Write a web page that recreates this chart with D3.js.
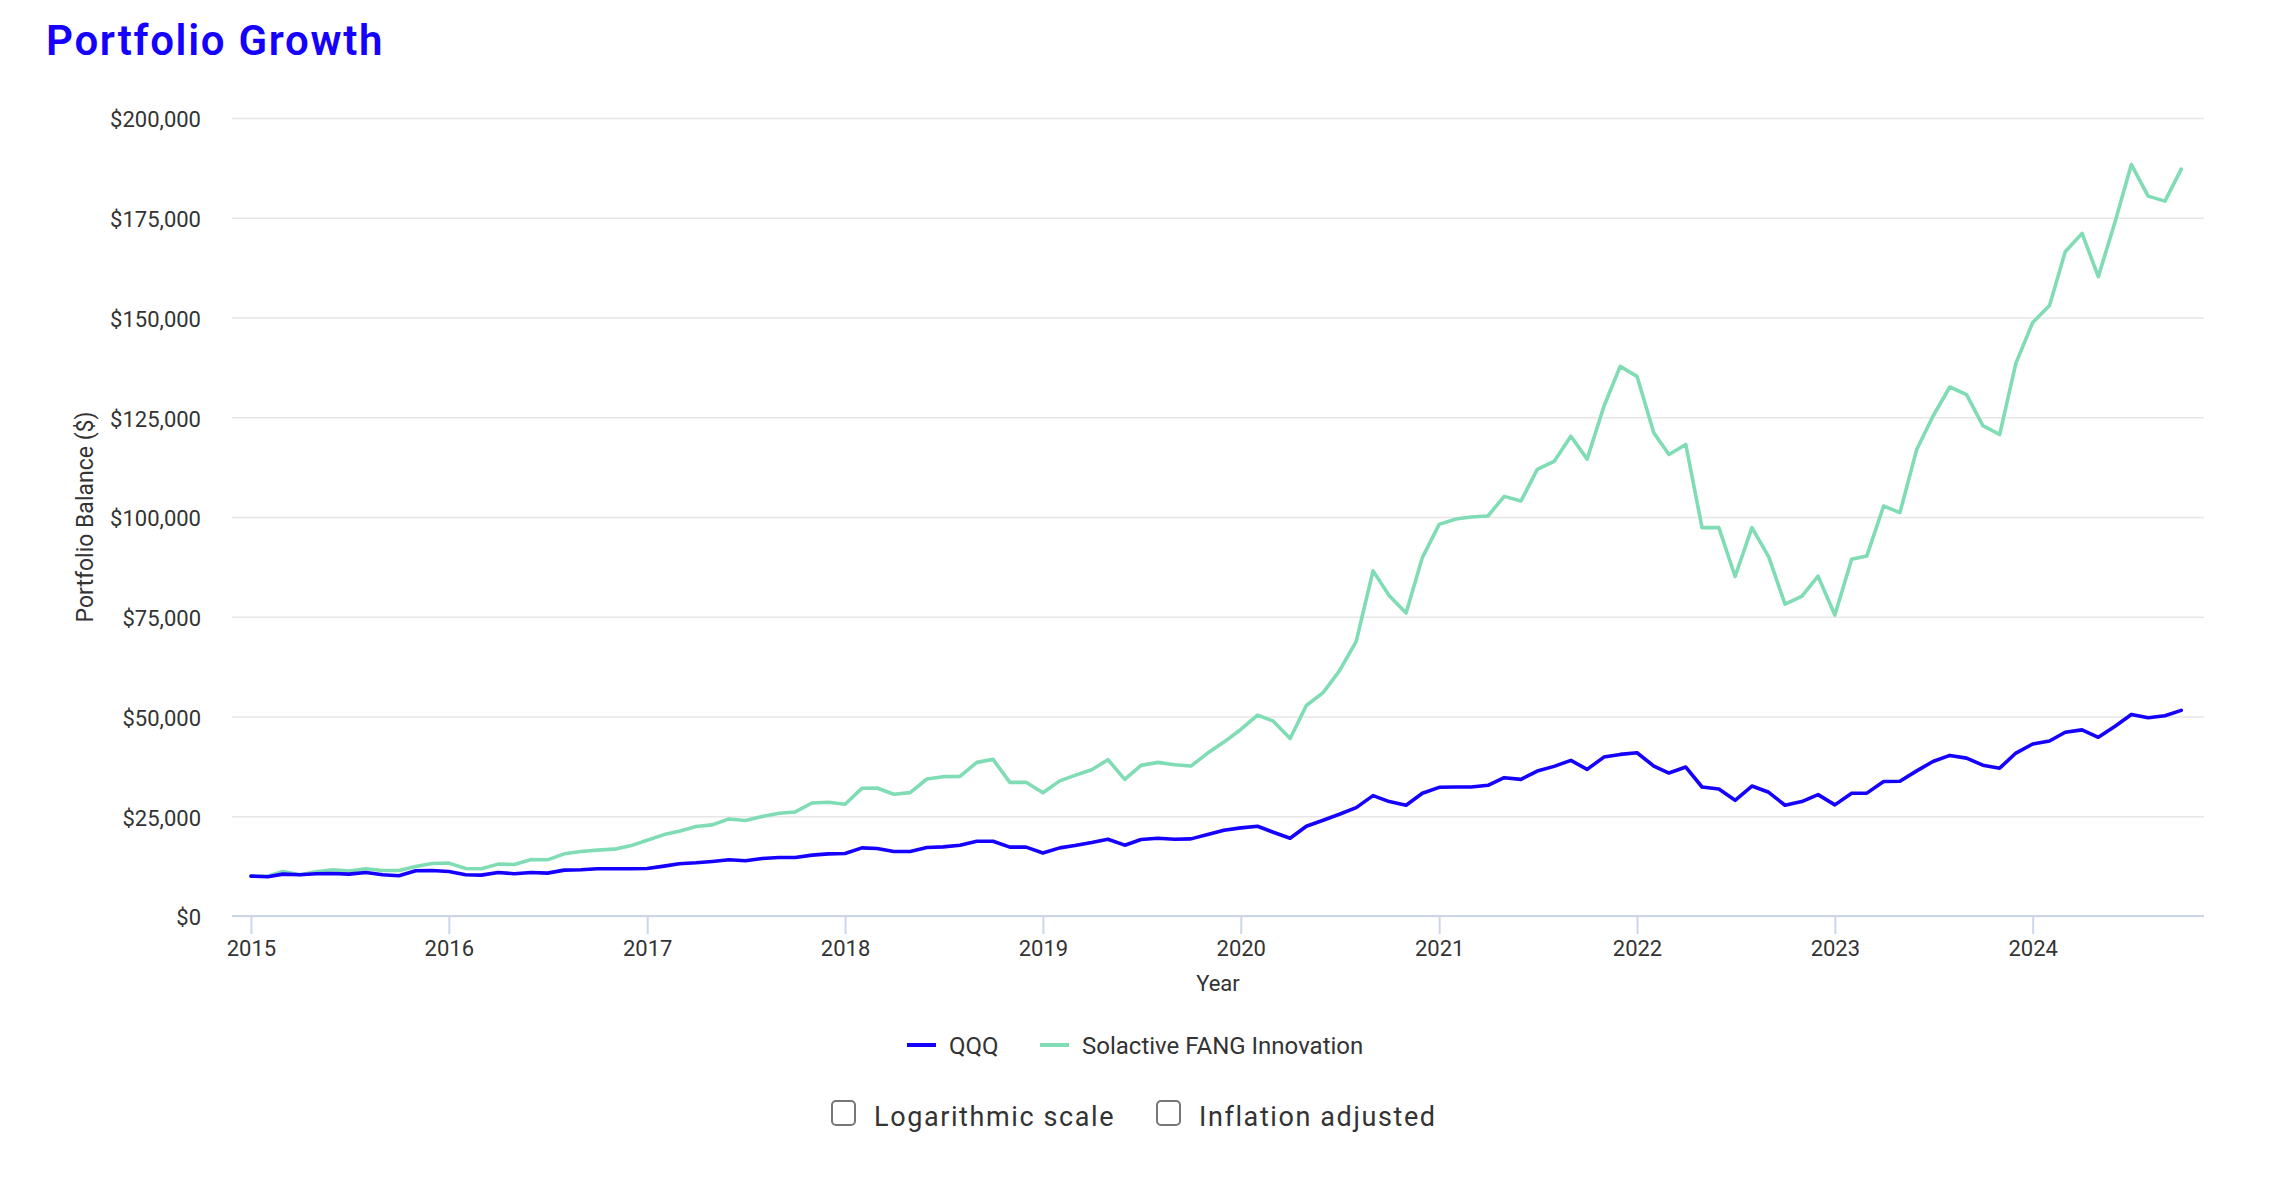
<!DOCTYPE html>
<html>
<head>
<meta charset="utf-8">
<script src="https://cdn.jsdelivr.net/npm/d3@7"></script>
<style>
  body { margin: 0; background: #fff; }
  text { font-family: Roboto, "Noto Sans", sans-serif; }
</style>
</head>
<body>
<div id="chart"></div>
<script>
// monthly balances, Jan 2015 .. Oct 2024 (start of month)
const startYear = 2015;
const seriesNames = ["QQQ", "Solactive FANG Innovation"];
const qqqValues = [
  10000, 9850, 10500, 10330, 10580, 10670, 10500, 10920, 10330, 10080, 11330, 11420,
  11170, 10330, 10250, 10920, 10580, 10920, 10750, 11500, 11580, 11830, 11830, 11830,
  11900, 12500, 13080, 13330, 13670, 14080, 13830, 14420, 14670, 14670, 15250, 15580,
  15670, 17080, 16920, 16170, 16170, 17170, 17330, 17750, 18750, 18750, 17250, 17250,
  15800, 17080, 17670, 18420, 19250, 17750, 19170, 19500, 19250, 19330, 20420, 21500,
  22080, 22500, 21000, 19500, 22500, 24000, 25500, 27170, 30170, 28670, 27750, 30750,
  32250, 32330, 32330, 32750, 34670, 34250, 36330, 37500, 39000, 36750, 39830, 40500,
  40920, 37580, 35830, 37330, 32330, 31830, 29000, 32580, 31000, 27750, 28670, 30420,
  27850, 30750, 30800, 33700, 33760, 36370, 38730, 40250, 39570, 37800, 37050, 40840,
  43110, 43870, 46060, 46650, 44790, 47570, 50520, 49680, 50180, 51530
];
const fangValues = [
  10000, 9950, 11170, 10330, 11080, 11580, 11250, 11830, 11420, 11420, 12420, 13170,
  13250, 11920, 11830, 13000, 12920, 14170, 14080, 15580, 16170, 16500, 16750, 17580,
  19000, 20400, 21250, 22420, 22830, 24330, 23920, 24920, 25750, 26080, 28330, 28500,
  28000, 32000, 32080, 30500, 30920, 34330, 34920, 35000, 38500, 39250, 33500, 33500,
  30900, 33870, 35250, 36670, 39170, 34250, 37750, 38500, 37920, 37580, 40830, 43580,
  46750, 50330, 48830, 44500, 52750, 56000, 61420, 68830, 86500, 80250, 75920, 89830,
  98160, 99500, 100000, 100250, 105170, 104000, 111920, 113920, 120250, 114500, 127750, 137750,
  135250, 121080, 115670, 118170, 97330, 97330, 85080, 97330, 90000, 78170, 80080, 85170,
  75420, 89420, 90250, 102750, 101080, 116920, 125250, 132580, 130670, 122920, 120670, 138580,
  148750, 153000, 166500, 171080, 160250, 174000, 188330, 180420, 179170, 187170
];
const yTicks = [0, 25000, 50000, 75000, 100000, 125000, 150000, 175000, 200000];
const xTickYears = [2015, 2016, 2017, 2018, 2019, 2020, 2021, 2022, 2023, 2024];
const colors = ["#1500ff", "#7fdcb4"];
const toggles = ["Logarithmic scale", "Inflation adjusted"];

const width = 2282, height = 1182;
const plot = {left: 232, right: 2204, top: 118, bottom: 916};

const svg = d3.select("#chart").append("svg")
  .attr("width", width)
  .attr("height", height);

// title
svg.append("text")
  .attr("x", 46)
  .attr("y", 55)
  .attr("fill", "#1500ff")
  .attr("font-family", "'Open Sans', sans-serif")
  .attr("font-weight", 600)
  .attr("font-size", "42px")
  .attr("letter-spacing", "1.7px")
  .text("Portfolio Growth");

const months = qqqValues.map((d, i) => new Date(startYear, i, 1));

const x = d3.scaleTime()
  .domain([new Date(2014, 10, 27), new Date(2024, 10, 12)])
  .range([plot.left, plot.right]);

const y = d3.scaleLinear()
  .domain([0, 200000])
  .range([plot.bottom, plot.top]);

// grid + y labels
const yAxis = d3.axisLeft(y)
  .tickValues(yTicks)
  .tickSize(-(plot.right - plot.left))
  .tickPadding(31)
  .tickFormat(d => "$" + d3.format(",")(d));

svg.append("g")
  .attr("transform", `translate(${plot.left},0)`)
  .call(yAxis)
  .call(g => g.select(".domain").remove())
  .call(g => g.selectAll(".tick line").attr("stroke", "#e6e6e6").attr("stroke-width", 1.6))
  .call(g => g.selectAll(".tick text")
    .attr("fill", "#333")
    .attr("font-size", "22px")
    .attr("dy", "0.4em")
    .attr("font-family", "Roboto, sans-serif"));

// x axis
const xAxis = d3.axisBottom(x)
  .tickValues(xTickYears.map(yr => new Date(yr, 0, 1)))
  .tickSize(18)
  .tickPadding(6)
  .tickFormat(d3.timeFormat("%Y"));

svg.append("g")
  .attr("transform", `translate(0,${plot.bottom})`)
  .call(xAxis)
  .call(g => g.select(".domain").attr("stroke", "#ccd6eb").attr("stroke-width", 2)
    .attr("d", `M${plot.left},0H${plot.right}`))
  .call(g => g.selectAll(".tick line").attr("stroke", "#ccd6eb").attr("stroke-width", 2))
  .call(g => g.selectAll(".tick text")
    .attr("fill", "#333")
    .attr("font-size", "22px")
    .attr("font-family", "Roboto, sans-serif"));

// axis titles
svg.append("text")
  .attr("x", (plot.left + plot.right) / 2)
  .attr("y", 991)
  .attr("text-anchor", "middle")
  .attr("fill", "#333")
  .attr("font-size", "22px")
  .text("Year");

svg.append("text")
  .attr("transform", `translate(93,${(plot.top + plot.bottom) / 2}) rotate(-90)`)
  .attr("text-anchor", "middle")
  .attr("fill", "#333")
  .attr("font-size", "23px")
  .text("Portfolio Balance ($)");

// lines (green first so the blue sits on top)
const line = d3.line()
  .x((d, i) => x(months[i]))
  .y(d => y(d));

[fangValues, qqqValues].forEach((vals, k) => {
  svg.append("path")
    .datum(vals)
    .attr("fill", "none")
    .attr("stroke", colors[1 - k])
    .attr("stroke-width", 3.6)
    .attr("stroke-linejoin", "round")
    .attr("stroke-linecap", "round")
    .attr("d", line);
});

// legend
const legend = svg.append("g").attr("transform", "translate(907,1045)");
const legendX = [0, 133];
seriesNames.forEach((name, k) => {
  const item = legend.append("g").attr("transform", `translate(${legendX[k]},0)`);
  item.append("line")
    .attr("x1", 0).attr("x2", 29)
    .attr("stroke", colors[k])
    .attr("stroke-width", 4);
  item.append("text")
    .attr("x", 42)
    .attr("dy", "0.36em")
    .attr("fill", "#333")
    .attr("font-size", "24px")
    .text(name);
});

// checkboxes
const boxX = [832, 1157];
toggles.forEach((label, k) => {
  const g = svg.append("g").attr("transform", `translate(${boxX[k]},1101)`);
  g.append("rect")
    .attr("width", 23).attr("height", 24)
    .attr("rx", 4)
    .attr("fill", "#fff")
    .attr("stroke", "#767676")
    .attr("stroke-width", 2);
  g.append("text")
    .attr("x", 42)
    .attr("y", 25)
    .attr("fill", "#333")
    .attr("font-family", "'Open Sans', sans-serif")
    .attr("font-size", "27px")
    .attr("letter-spacing", "1.6px")
    .text(label);
});
</script>
</body>
</html>
